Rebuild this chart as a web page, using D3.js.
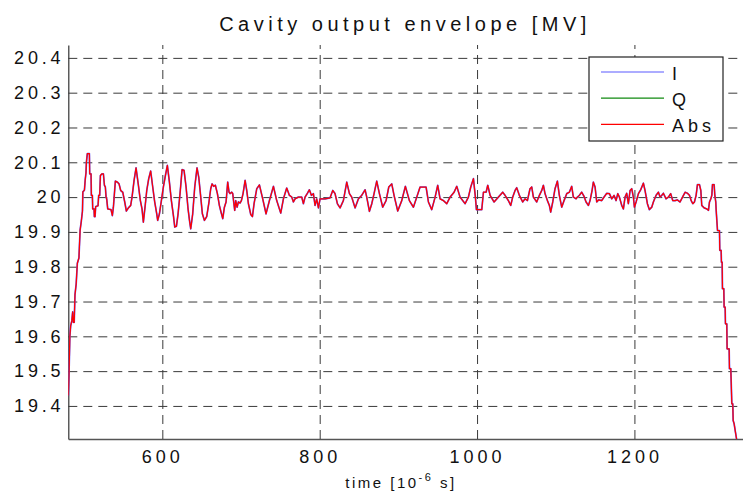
<!DOCTYPE html>
<html>
<head>
<meta charset="utf-8">
<script src="https://cdn.jsdelivr.net/npm/d3@7/dist/d3.min.js"></script>
<style>
  html, body { margin: 0; padding: 0; background: #fff; }
  svg { display: block; }
  text { font-family: "Liberation Sans", Arial, Helvetica, sans-serif; fill: #111; }
</style>
</head>
<body>
<svg id="chart" width="743" height="493"></svg>
<script>
// Sample times [µs] of the cavity output envelope
const timeUs = [
  480.5, 481.5, 482.5, 483.5, 485, 486, 487, 488, 489, 490.5, 492, 494, 495.5, 497, 498.5, 499,
  501, 502, 503, 503.5, 504.7, 507.3, 507.7, 509.4, 509.8, 511.1, 511.5, 513.2, 513.6, 514.5,
  515.3, 518.3, 519.1, 520.4, 521.3, 523.4, 525.1, 526.4, 527.6, 528.5, 529.3, 530.6, 532.7,
  534.8, 536.5, 537.8, 540.3, 542.9, 545, 547.1, 549.7, 552.2, 554.3, 556.9, 559.8, 561.5,
  564.1, 566.6, 569.6, 572.1, 574.2, 575.9, 578, 580.2, 582.7, 585.2, 587.8, 590.3, 592.9,
  594.1, 596.3, 598.8, 601.3, 603.9, 606.4, 609, 611.5, 614.1, 615.8, 617.9, 620, 622.5,
  625.1, 627.6, 630.2, 632.7, 634.8, 636.1, 638.6, 641.2, 644.1, 646.3, 648.4, 650.9, 653.5,
  656.4, 659, 661.5, 663.2, 665.3, 667.4, 670, 672.5, 674.6, 676.8, 678.9, 681, 683.1, 684.8,
  686.1, 688.2, 689.5, 690.7, 692, 693.3, 695, 696.7, 698.8, 700.5, 702.6, 705.2, 707.3,
  709.4, 712.4, 714.5, 716.6, 720, 723.4,
  727.6, 731.8, 736.1, 741.2, 745.4, 750.5, 753.9, 758.1, 761.5, 764.5, 766.6, 768.7, 772.9,
  777.2, 779.3, 781.4, 784.4, 786.9, 789.5, 792, 794.1, 796.2, 798.4, 800.5, 806.8, 813.2,
  816.6, 819.5, 822.5, 825.9, 830.1, 834.4, 837.8, 840.7, 845, 849.2, 853.4, 857.7, 859.8,
  863.2, 866.2, 869.1, 872.5, 875.9, 880.1, 884.4, 887.8, 891.6, 894.5, 899.2, 904.3, 908.9,
  914, 919.1, 923.4, 927.6, 935.2, 938.2, 942.4, 946.7, 950, 953, 957.2, 961.5, 965.7, 970.8,
  974.2, 978.4, 984.8, 989, 992, 995.4, 997.9, 999.2, 1006, 1008.1, 1011.5, 1013.6, 1016.6,
  1021.6, 1027.1, 1032.6, 1035.6, 1039.8, 1042.8, 1045.3, 1048.3, 1050.4, 1053.8, 1058, 1061,
  1064, 1067.3, 1069.5, 1071.6, 1075.8, 1079.2, 1082.2, 1084.3, 1086.4, 1089.4, 1091.9,
  1093.6, 1096.2, 1099.1, 1102.1, 1104.6, 1107.6, 1110.6, 1114, 1117.3, 1120.3, 1122.4,
  1125.8, 1127.5, 1130, 1133, 1136, 1138.5, 1141.5, 1143.6, 1146.2, 1147.8, 1150, 1152.1,
  1154.6, 1158.4, 1161.4, 1164.8, 1168.2, 1171.2, 1174.1, 1176.7, 1178.8, 1180.9, 1183.9,
  1186, 1188.1, 1190.2, 1192.3, 1194.5, 1196.6, 1198.7, 1200, 1202.1, 1205.1, 1208, 1211.4,
  1213.5, 1216.5, 1219, 1222, 1224.1, 1227.5, 1230.5, 1232.6, 1234.7, 1236.8, 1240.2, 1243.2,
  1246.1, 1248.7, 1251.7, 1254.6, 1258, 1262.3, 1264.5, 1267.4, 1270, 1272.1, 1274.2, 1276.3,
  1278.4, 1280.1, 1282.7, 1284.4, 1285.6, 1288.6, 1292, 1294.1, 1295.4, 1297.1, 1298.4,
  1299.2, 1301.3, 1302.2, 1303.4, 1303.9, 1305.6, 1308.1, 1308.5, 1310.2, 1310.6, 1311.5,
  1311.9, 1313.6, 1314, 1315.3, 1315.7, 1317.4, 1317.8, 1320.4, 1320.8, 1322.5, 1323.8, 1325,
  1325.5, 1326.7, 1328.4, 1330.1
];

// Envelope amplitude |V| [MV] at each sample time
const envelopeAbs = [
  19.43, 19.50, 19.60, 19.63, 19.645, 19.67, 19.64, 19.64, 19.72, 19.75, 19.81, 19.825, 19.905,
  19.93, 19.96, 20.015, 20.02, 20.05, 20.07, 20.10, 20.125, 20.125, 20.067, 20.067, 20.005,
  20.005, 19.966, 19.966, 19.944, 19.944, 19.973, 19.975, 20.005, 20.005, 20.062, 20.067,
  20.067, 20.034, 20.029, 20.0, 19.995, 19.966, 19.965, 19.964, 19.947, 19.971, 20.046,
  20.043, 20.038, 20.019, 20.014, 19.986, 19.960, 19.969, 19.976, 20.0, 20.048, 20.084,
  20.034, 19.990, 19.966, 19.928, 19.971, 20.019, 20.053, 20.075, 20.029, 19.986, 19.952,
  19.933, 19.952, 19.990, 20.029, 20.062, 20.091, 20.043, 19.990, 19.947, 19.914, 19.916,
  19.952, 20.010, 20.079, 20.077, 20.029, 19.966, 19.928, 19.909, 19.952, 20.029, 20.084,
  20.057, 20.010, 19.952, 19.933, 19.944, 19.981, 20.024, 20.038, 20.031, 20.034, 20.010,
  19.976, 19.957, 19.938, 19.971, 19.986, 20.043, 20.014, 20.010, 20.014, 20.010, 19.986,
  19.962, 19.990, 19.971, 19.986, 19.983, 19.990, 20.010, 20.048, 20.019, 19.981, 19.950,
  19.944, 19.981, 20.024, 20.035,
  19.995, 19.952, 19.990, 20.031, 19.990, 19.954, 19.995, 20.026, 20.005, 20.0, 19.986,
  19.995, 20.0, 20.0, 19.981, 20.0, 20.011, 20.021, 20.005, 20.010, 19.976, 19.995, 19.969,
  19.995, 19.995, 19.998, 20.019, 20.010, 19.981, 19.969, 19.990, 20.043, 20.010, 20.0,
  19.969, 19.995, 20.005, 20.021, 20.0, 19.959, 19.981, 20.010, 20.046, 20.010, 19.971,
  19.990, 20.029, 20.038, 20.005, 19.960, 19.990, 20.031, 19.990, 19.971, 20.0, 20.029,
  20.029, 19.986, 19.964, 20.0, 20.034, 19.995, 19.990, 19.981, 20.0, 20.014, 20.031, 20.0,
  19.981, 20.0, 20.029, 20.053, 20.0, 19.964, 19.964, 20.014, 20.014, 20.034, 20.005,
  19.986, 20.0, 20.014, 20.005, 19.990, 19.976, 20.0, 20.019, 20.027, 20.005, 19.986,
  19.995, 19.990, 20.024, 20.029, 20.0, 19.986, 20.005, 20.019, 20.034, 20.010, 19.990,
  19.976, 19.957, 19.986, 20.024, 20.046, 20.005, 19.971, 19.990, 20.010, 20.014, 20.031,
  20.0, 19.995, 20.0, 20.005, 20.014, 20.002, 19.986, 19.976, 19.990, 20.019, 20.043,
  20.029, 19.986, 19.992, 19.990, 20.0, 20.011, 20.010, 19.995, 20.005, 19.990, 20.010,
  20.0, 19.976, 19.966, 20.0, 20.011, 19.981, 20.019, 20.024, 20.0, 19.971, 19.986, 20.010,
  20.021, 20.040, 20.019, 19.981, 19.964, 19.971, 19.986, 20.005, 20.014, 20.0, 20.005,
  20.011, 19.995, 20.0, 20.010, 19.990, 19.990, 19.992, 19.986, 20.005, 20.014, 20.011,
  20.005, 19.990, 19.981, 19.986, 20.005, 20.036, 20.036, 20.019, 19.976, 19.969, 19.966,
  19.962, 19.986, 19.995, 20.005, 20.036, 20.036, 20.005, 19.986, 19.962, 19.904, 19.904,
  19.847, 19.847, 19.813, 19.813, 19.737, 19.737, 19.684, 19.684, 19.636, 19.636, 19.564,
  19.564, 19.507, 19.507, 19.406, 19.406, 19.358, 19.349, 19.325, 19.301
];

// In-phase component: the quadrature part stays near 0 MV, so I coincides with |V|
const envelopeI = envelopeAbs;

const seriesNames = ["I", "Q", "Abs"];
const seriesColors = ["#5a5aff", "#108a10", "#ff0000"];

const xTicks = [600, 800, 1000, 1200];
const xTickLabels = ["600", "800", "1000", "1200"];
const yTicks = [19.4, 19.5, 19.6, 19.7, 19.8, 19.9, 20.0, 20.1, 20.2, 20.3, 20.4];
const yTickLabels = ["19.4", "19.5", "19.6", "19.7", "19.8", "19.9", "20", "20.1", "20.2", "20.3", "20.4"];

const titleText = "Cavity output envelope [MV]";

// ---- layout ----
const svg = d3.select("#chart");
const plot = { left: 68.3, right: 743, top: 45, bottom: 439 };

const x = d3.scaleLinear().domain([480.5, 1338]).range([plot.left, plot.right]);
const y = d3.scaleLinear().domain([19.305, 20.437]).range([plot.bottom, plot.top]);

svg.append("rect").attr("width", 743).attr("height", 493).attr("fill", "#fff");

// Grid + left axis
const yAxis = d3.axisLeft(y)
  .tickValues(yTicks)
  .tickFormat((d, i) => yTickLabels[i])
  .tickSize(-(plot.right - plot.left))
  .tickSizeOuter(0)
  .tickPadding(4);
const gy = svg.append("g").attr("transform", `translate(${plot.left},0)`).call(yAxis);
gy.select(".domain").attr("stroke", "#333").attr("stroke-width", 1.2);
gy.selectAll(".tick line").attr("stroke", "#3a3a3a").attr("stroke-dasharray", "9,6");
gy.selectAll(".tick text")
  .attr("font-size", 18).attr("letter-spacing", 3.8)
  .style("font-family", "'Liberation Sans', Arial, sans-serif").attr("fill", "#111");

// Grid + bottom axis
const xAxis = d3.axisBottom(x)
  .tickValues(xTicks)
  .tickFormat((d, i) => xTickLabels[i])
  .tickSize(-(plot.bottom - plot.top))
  .tickSizeOuter(0)
  .tickPadding(11);
const gx = svg.append("g").attr("transform", `translate(0,${plot.bottom})`).call(xAxis);
gx.select(".domain").attr("stroke", "#555").attr("stroke-width", 1.6);
gx.selectAll(".tick line").attr("stroke", "#3a3a3a").attr("stroke-dasharray", "9,6");
gx.selectAll(".tick text")
  .attr("font-size", 18).attr("letter-spacing", 4)
  .style("font-family", "'Liberation Sans', Arial, sans-serif").attr("fill", "#111");

// Data lines, clipped to the axes box
svg.append("clipPath").attr("id", "plotClip")
  .append("rect")
  .attr("x", plot.left).attr("y", plot.top)
  .attr("width", plot.right - plot.left).attr("height", plot.bottom - plot.top);

const line = d3.line()
  .x((d, i) => x(timeUs[i]))
  .y(d => y(d));

const lines = svg.append("g").attr("clip-path", "url(#plotClip)");
lines.append("path").datum(envelopeI)
  .attr("d", line).attr("fill", "none")
  .attr("stroke", seriesColors[0]).attr("stroke-width", 1.7).attr("stroke-linejoin", "round");
lines.append("path").datum(envelopeAbs)
  .attr("d", line).attr("fill", "none")
  .attr("stroke", seriesColors[2]).attr("stroke-width", 1.25).attr("stroke-linejoin", "round");

// Title
svg.append("text")
  .attr("x", 405).attr("y", 30.5)
  .attr("text-anchor", "middle")
  .attr("font-size", 20).attr("letter-spacing", 4.5)
  .text(titleText);

// X axis label with superscript exponent
const xl = svg.append("text")
  .attr("x", 401).attr("y", 488)
  .attr("text-anchor", "middle")
  .attr("font-size", 15).attr("letter-spacing", 2.5);
xl.append("tspan").text("time [10");
xl.append("tspan").attr("font-size", 11).attr("dy", -7).text("-6");
xl.append("tspan").attr("dy", 7).text(" s]");

// Legend
const legend = svg.append("g");
legend.append("rect")
  .attr("x", 589).attr("y", 57).attr("width", 134).attr("height", 84)
  .attr("fill", "#fff").attr("stroke", "#222").attr("stroke-width", 1.2);
const legendY = d3.scalePoint().domain(seriesNames).range([72, 124.3]);
seriesNames.forEach((name, i) => {
  legend.append("line")
    .attr("x1", 601).attr("x2", 664)
    .attr("y1", legendY(name)).attr("y2", legendY(name))
    .attr("stroke", seriesColors[i]).attr("stroke-width", 1.2);
  legend.append("text")
    .attr("x", 672).attr("y", legendY(name) + 8)
    .attr("font-size", 18).attr("letter-spacing", 4)
    .text(name);
});
</script>
</body>
</html>
